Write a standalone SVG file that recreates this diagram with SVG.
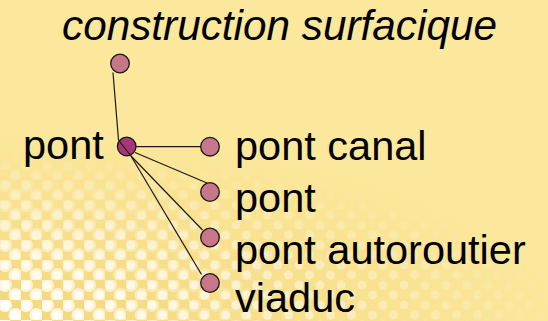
<svg xmlns="http://www.w3.org/2000/svg" width="548" height="321" viewBox="0 0 548 321">
  <defs>
    <style>
      .lbl { font-family: "Liberation Sans", Arial, sans-serif; font-size: 41.5px; fill: #000; }
      .title { font-family: "Liberation Sans", Arial, sans-serif; font-size: 42.3px; font-style: italic; fill: #000; }
      .edge { stroke: #1a1a1a; stroke-width: 1.2; fill: none; }
      .child { fill: #c8768a; stroke: #1a1a1a; stroke-width: 1.3; }
      .root { fill: #a63779; stroke: #1a1a1a; stroke-width: 1.3; }
    </style>
    <pattern id="dots" width="21" height="20" patternUnits="userSpaceOnUse">
      <circle cx="5" cy="5" r="4.5" fill="#ffffff"/>
      <circle cx="15.5" cy="15" r="4.5" fill="#ffffff"/>
    </pattern>
    <pattern id="bigdots" width="21" height="20" patternUnits="userSpaceOnUse">
      <circle cx="5" cy="5" r="7" fill="#ffffff"/>
      <circle cx="15.5" cy="15" r="7" fill="#ffffff"/>
    </pattern>
    <radialGradient id="fade" gradientUnits="userSpaceOnUse" cx="0" cy="321" r="580" gradientTransform="translate(0 321) scale(1 0.3) translate(0 -321)">
      <stop offset="0" stop-color="#fff" stop-opacity="0.9"/>
      <stop offset="0.5" stop-color="#fff" stop-opacity="0.5"/>
      <stop offset="1" stop-color="#fff" stop-opacity="0"/>
    </radialGradient>
    <radialGradient id="fade2" gradientUnits="userSpaceOnUse" cx="0" cy="321" r="300" gradientTransform="translate(0 321) scale(1 0.55) translate(0 -321)">
      <stop offset="0" stop-color="#fff" stop-opacity="0.9"/>
      <stop offset="0.6" stop-color="#fff" stop-opacity="0.35"/>
      <stop offset="1" stop-color="#fff" stop-opacity="0"/>
    </radialGradient>
    <radialGradient id="warm" gradientUnits="userSpaceOnUse" cx="0" cy="321" r="580" gradientTransform="translate(0 321) scale(1 0.33) translate(0 -321)">
      <stop offset="0" stop-color="#f4d77a" stop-opacity="1"/>
      <stop offset="1" stop-color="#f4d77a" stop-opacity="0"/>
    </radialGradient>
    <mask id="m">
      <rect width="548" height="321" fill="url(#fade)"/>
    </mask>
    <mask id="m2">
      <rect width="548" height="321" fill="url(#fade2)"/>
    </mask>
  </defs>
  <rect width="548" height="321" fill="#fbe89c"/>
  <rect width="548" height="321" fill="url(#warm)"/>
  <rect width="548" height="321" fill="url(#dots)" mask="url(#m)"/>
  <rect width="548" height="321" fill="url(#bigdots)" mask="url(#m2)"/>

  <text class="title" x="62" y="40">construction surfacique</text>

  <g id="node-construction">
    <circle class="child" cx="120" cy="63.5" r="9.3"/>
  </g>
  <g id="node-pont-root">
    <circle class="root" cx="126.7" cy="146.5" r="9.3"/>
    <text class="lbl" x="23" y="159">pont</text>
  </g>
  <g id="node-pont-canal">
    <circle class="child" cx="210" cy="146.7" r="9.3"/>
    <text class="lbl" x="235" y="160">pont canal</text>
  </g>
  <g id="node-pont">
    <circle class="child" cx="210" cy="192" r="9.3"/>
    <text class="lbl" x="235" y="212">pont</text>
  </g>
  <g id="node-pont-autoroutier">
    <circle class="child" cx="210" cy="237.5" r="9.3"/>
    <text class="lbl" x="235" y="264">pont autoroutier</text>
  </g>
  <g id="node-viaduc">
    <circle class="child" cx="210" cy="283" r="9.3"/>
    <text class="lbl" x="235" y="312">viaduc</text>
  </g>

  <g id="connectors">
    <polyline class="edge" points="113,72.5 118.5,140 131,156"/>
    <line class="edge" x1="136" y1="146.6" x2="200.7" y2="146.6"/>
    <line class="edge" x1="135" y1="152.5" x2="207" y2="183"/>
    <line class="edge" x1="131" y1="156" x2="202.5" y2="230"/>
    <line class="edge" x1="131" y1="156" x2="201.5" y2="274.5"/>
  </g>
</svg>
